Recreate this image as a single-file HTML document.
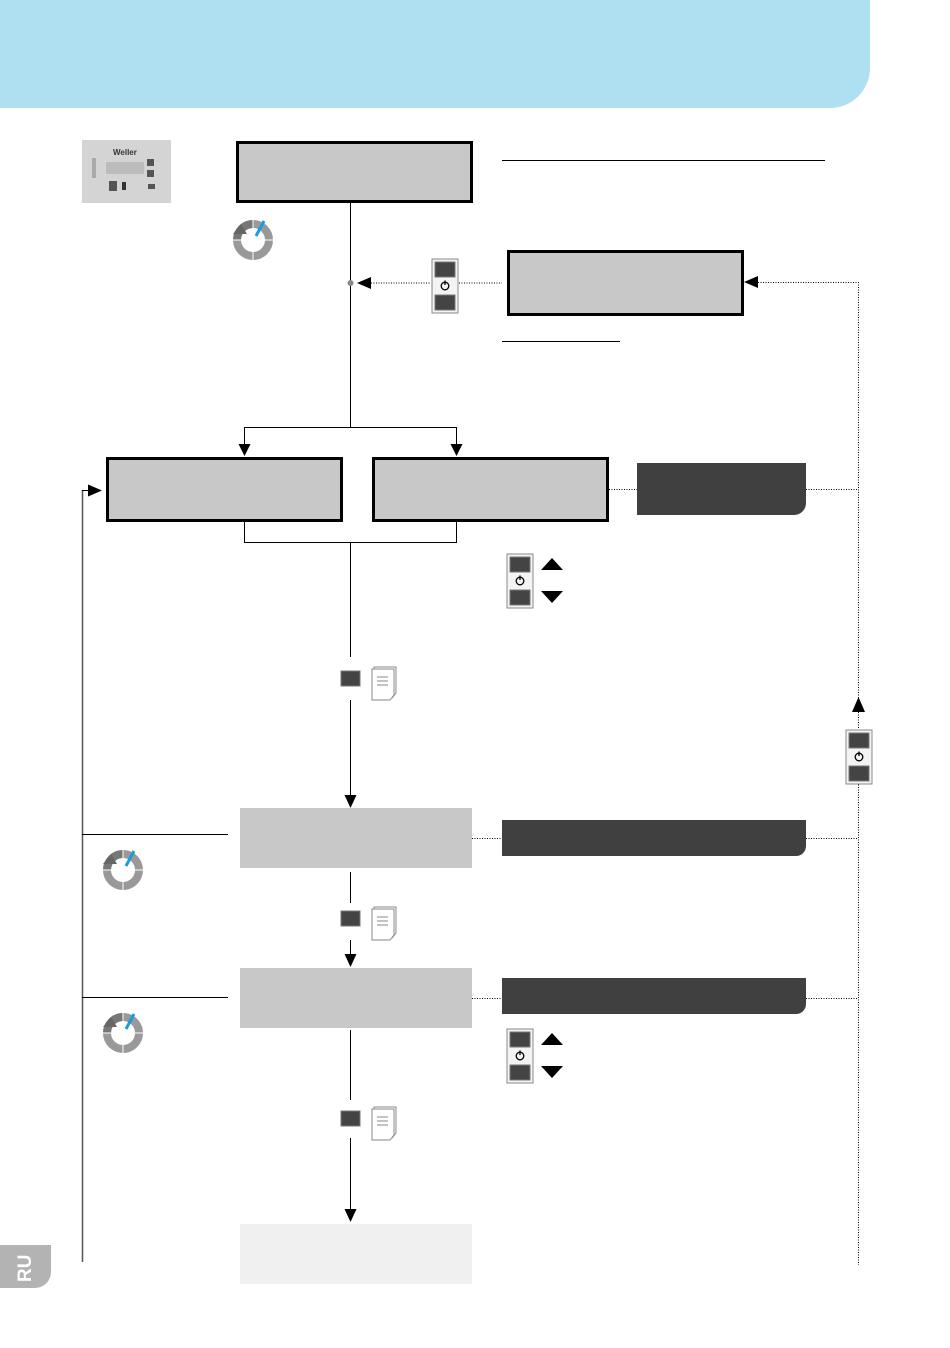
<!DOCTYPE html>
<html><head><meta charset="utf-8"><style>
html,body{margin:0;padding:0;background:#fff;}
body{width:950px;height:1348px;overflow:hidden;position:relative;font-family:"Liberation Sans",sans-serif;}
</style></head><body>
<svg width="950" height="1348" viewBox="0 0 950 1348" xmlns="http://www.w3.org/2000/svg" style="position:absolute;left:0;top:0">
<defs>
<g id="btn2">
  <rect x="0" y="0" width="26" height="54" fill="#f4f4f4" stroke="#888" stroke-width="1"/>
  <rect x="3" y="3" width="20" height="15" fill="#444" stroke="#777"/>
  <rect x="3" y="36" width="20" height="15" fill="#444" stroke="#777"/>
  <circle cx="13" cy="27" r="3.8" fill="none" stroke="#000" stroke-width="1.3"/>
  <line x1="13" y1="21.5" x2="13" y2="26" stroke="#000" stroke-width="1.3"/>
</g>
<g id="cyc">
  <circle cx="0" cy="0" r="16" fill="none" stroke="#999" stroke-width="8"/>
  <path d="M-16,0 A16,16 0 0 1 0,-16" fill="none" stroke="#777" stroke-width="8"/>
  <path d="M-20,-6 L-12,-16 L-6,-6 Z" fill="#666"/>
  <line x1="-21" y1="0" x2="21" y2="0" stroke="#fff" stroke-width="1"/>
  <line x1="0" y1="-21" x2="0" y2="21" stroke="#fff" stroke-width="1"/>
  <line x1="3" y1="-4" x2="11" y2="-19" stroke="#1a9be0" stroke-width="3"/>
</g>
<g id="btndoc">
  <rect x="0" y="0" width="19" height="15" fill="#444" stroke="#777"/>
  <path d="M33,-4 h22 v26 l-4,5 h-18 Z" fill="#fff" stroke="#888"/>
  <path d="M31,-2 h22 v26 l-4,5 h-18 Z" fill="#fff" stroke="#888"/>
  <line x1="36" y1="6" x2="47" y2="6" stroke="#888"/>
  <line x1="36" y1="10" x2="47" y2="10" stroke="#888"/>
  <line x1="36" y1="14" x2="47" y2="14" stroke="#888"/>
</g>
</defs>
<!-- header -->
<path d="M0,0 H870 V68 A40,40 0 0 1 830,108 H0 Z" fill="#aee0f2"/>
<!-- RU tab -->
<path d="M0,1245 H51 V1272 A16,16 0 0 1 35,1288 H0 Z" fill="#b3b3b3"/>
<text x="0" y="0" transform="translate(31,1282) rotate(-90)" fill="#fff" font-size="19" font-weight="bold">RU</text>
<!-- Weller panel -->
<rect x="82" y="140" width="89" height="63" fill="#d4d4d4"/>
<text x="113" y="155" font-size="8" font-weight="bold" fill="#333">Weller</text>
<rect x="106" y="162" width="38" height="12" fill="#bcbcbc"/>
<rect x="147" y="159" width="7" height="7" fill="#555"/><rect x="147" y="170" width="7" height="7" fill="#555"/>
<rect x="109" y="181" width="8" height="10" fill="#555"/><rect x="122" y="182" width="4" height="8" fill="#333"/>
<rect x="148" y="184" width="7" height="5" fill="#555"/><rect x="92" y="158" width="4" height="20" fill="#aaa"/>
<!-- top box -->
<rect x="237.5" y="142.5" width="234" height="59" fill="#c8c8c8" stroke="#000" stroke-width="3"/>
<use href="#cyc" x="253" y="240"/>
<line x1="502" y1="160.5" x2="825" y2="160.5" stroke="#000"/>
<line x1="502" y1="341.5" x2="620" y2="341.5" stroke="#000"/>
<!-- main vertical -->
<line x1="350.5" y1="202" x2="350.5" y2="427" stroke="#000"/>
<circle cx="350.5" cy="283" r="3" fill="#888"/>
<path d="M357,283 L371,277 L371,289 Z" fill="#000"/>
<line x1="371" y1="283" x2="430" y2="283" stroke="#000" stroke-dasharray="1,1.5"/>
<use href="#btn2" x="432" y="259"/>
<line x1="459" y1="283" x2="502" y2="283" stroke="#000" stroke-dasharray="1,1.5"/>
<rect x="508.5" y="251.5" width="234" height="63" fill="#c8c8c8" stroke="#000" stroke-width="3"/>
<path d="M744,282 L758,276 L758,288 Z" fill="#000"/>
<line x1="758" y1="282.5" x2="858" y2="282.5" stroke="#000" stroke-dasharray="1,1.5"/>
<line x1="858.5" y1="282" x2="858.5" y2="1265" stroke="#000" stroke-dasharray="1,1.5"/>
<!-- split -->
<line x1="244.5" y1="427.5" x2="456.5" y2="427.5" stroke="#000"/>
<line x1="244.5" y1="427" x2="244.5" y2="445" stroke="#000"/>
<line x1="456.5" y1="427" x2="456.5" y2="445" stroke="#000"/>
<path d="M238.5,444 L250.5,444 L244.5,456 Z" fill="#000"/>
<path d="M450.5,444 L462.5,444 L456.5,456 Z" fill="#000"/>
<rect x="107.5" y="458.5" width="234" height="62" fill="#c8c8c8" stroke="#000" stroke-width="3"/>
<rect x="373.5" y="458.5" width="234" height="62" fill="#c8c8c8" stroke="#000" stroke-width="3"/>
<line x1="609" y1="489.5" x2="637" y2="489.5" stroke="#000" stroke-dasharray="1,1.5"/>
<path d="M637,463 H806 V503 A12,12 0 0 1 794,515 H637 Z" fill="#404040"/>
<line x1="806" y1="489.5" x2="858" y2="489.5" stroke="#000" stroke-dasharray="1,1.5"/>
<!-- bracket -->
<path d="M244.5,521 V542.5 H456.5 V521" fill="none" stroke="#000"/>
<line x1="350.5" y1="542" x2="350.5" y2="657" stroke="#000"/>
<use href="#btn2" x="507" y="554"/>
<path d="M541,570 L552,558 L563,570 Z" fill="#000"/>
<path d="M541,591 L563,591 L552,603 Z" fill="#000"/>
<use href="#btndoc" x="341" y="671"/>
<line x1="350.5" y1="700" x2="350.5" y2="795" stroke="#000"/>
<path d="M344.5,795 L356.5,795 L350.5,808 Z" fill="#000"/>
<!-- left loop -->
<line x1="82.5" y1="490" x2="82.5" y2="1262" stroke="#555" stroke-width="1.5"/>
<line x1="82" y1="490.5" x2="90" y2="490.5" stroke="#000"/>
<path d="M102,490.5 L88,484.5 L88,496.5 Z" fill="#000"/>
<!-- right button -->
<path d="M852,712 L858.5,697 L865,712 Z" fill="#000"/>
<use href="#btn2" x="846" y="730"/>
<!-- box5 -->
<rect x="240" y="808" width="232" height="60" fill="#c8c8c8"/>
<line x1="82" y1="834.5" x2="228" y2="834.5" stroke="#000"/>
<use href="#cyc" x="123" y="870"/>
<line x1="472" y1="838.5" x2="502" y2="838.5" stroke="#000" stroke-dasharray="1,1.5"/>
<path d="M502,820 H806 V846 A10,10 0 0 1 796,856 H502 Z" fill="#404040"/>
<line x1="806" y1="838.5" x2="858" y2="838.5" stroke="#000" stroke-dasharray="1,1.5"/>
<line x1="350.5" y1="872" x2="350.5" y2="903" stroke="#000"/>
<use href="#btndoc" x="341" y="911"/>
<line x1="350.5" y1="940" x2="350.5" y2="955" stroke="#000"/>
<path d="M344.5,954 L356.5,954 L350.5,967 Z" fill="#000"/>
<!-- box6 -->
<rect x="240" y="968" width="232" height="60" fill="#c8c8c8"/>
<line x1="82" y1="997.5" x2="228" y2="997.5" stroke="#000"/>
<use href="#cyc" x="123" y="1033"/>
<line x1="472" y1="998.5" x2="502" y2="998.5" stroke="#000" stroke-dasharray="1,1.5"/>
<path d="M502,978 H806 V1004 A10,10 0 0 1 796,1014 H502 Z" fill="#404040"/>
<line x1="806" y1="998.5" x2="858" y2="998.5" stroke="#000" stroke-dasharray="1,1.5"/>
<use href="#btn2" x="507" y="1029"/>
<path d="M541,1045 L552,1033 L563,1045 Z" fill="#000"/>
<path d="M541,1066 L563,1066 L552,1078 Z" fill="#000"/>
<line x1="350.5" y1="1030" x2="350.5" y2="1100" stroke="#000"/>
<use href="#btndoc" x="341" y="1111"/>
<line x1="350.5" y1="1138" x2="350.5" y2="1210" stroke="#000"/>
<path d="M344.5,1209 L356.5,1209 L350.5,1222 Z" fill="#000"/>
<rect x="240" y="1224" width="232" height="60" fill="#f0f0f0"/>
</svg>
</body></html>
